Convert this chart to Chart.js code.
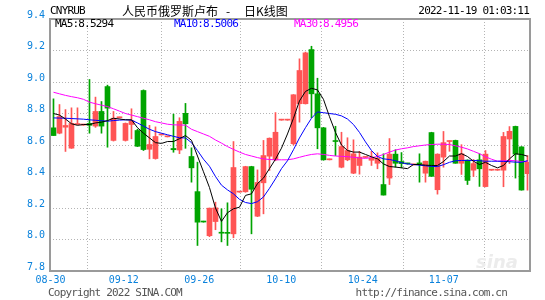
<!DOCTYPE html>
<html>
<head>
<meta charset="utf-8">
<script src="https://cdn.jsdelivr.net/npm/chart.js@4.4.0/dist/chart.umd.min.js"></script>
<style>
  body { margin: 0; background: #fff; }
  #wrap { position: relative; width: 545px; height: 300px; }
  .t { position: absolute; white-space: nowrap; font: 11px "DejaVu Sans Mono", monospace; letter-spacing: -0.8px; line-height: 12px; }
  .cn { font: 12px "Noto Sans CJK SC", sans-serif; letter-spacing: 0; line-height: 16px; color: #000; }
</style>
</head>
<body>
<div id="wrap">
  <canvas id="kline" width="545" height="300"></canvas>
  <div class="t" style="left:50px;top:5px;color:#000">CNYRUB</div>
  <div class="t cn" style="left:122px;top:3px">人民币俄罗斯卢布</div>
  <div class="t cn" style="left:226px;top:3px">-</div>
  <div class="t cn" style="left:244px;top:3px">日K线图</div>
  <div class="t" style="right:16px;top:5px;color:#000">2022-11-19 01:03:11</div>
  <div class="t" style="left:55px;top:18px;color:#000">MA5:8.5294</div>
  <div class="t" style="left:174px;top:18px;color:#0000ff">MA10:8.5006</div>
  <div class="t" style="left:294px;top:18px;color:#ff00ff">MA30:8.4956</div>
  <div class="t" style="left:476px;top:251px;color:#ececec;font:italic bold 18px 'DejaVu Sans',sans-serif;letter-spacing:0">sina</div>
  <div class="t" style="left:48px;top:287px;color:#555">Copyright 2022 SINA.COM</div>
  <div class="t" style="right:38px;top:287px;color:#555">http://finance.sina.com.cn</div>
</div>
<script>
// daily candles, 08-30 .. 11-18
const opens  = [8.709, 8.675, 8.713, 8.580, 8.730, 8.727, 8.737, 8.720, 8.813, 8.971,
                8.629, 8.773, 8.629, 8.730, 8.692, 8.946, 8.573, 8.514, 8.664, 8.652,
                8.578, 8.568, 8.801, 8.527, 8.304, 8.113, 8.024, 8.114, 8.044, 8.041,
                8.036, 8.301, 8.303, 8.463, 8.148, 8.360, 8.529, 8.506, 8.758, 8.758,
                8.608, 8.862, 8.862, 9.206, 8.925, 8.709, 8.506, 8.626, 8.459, 8.506,
                8.421, 8.470, 8.521, 8.503, 8.484, 8.349, 8.390, 8.542, 8.495, 8.482,
                8.474, 8.486, 8.421, 8.679, 8.316, 8.523, 8.622, 8.629, 8.484, 8.504,
                8.440, 8.506, 8.336, 8.440, 8.440, 8.440, 8.638, 8.718, 8.588, 8.418];
const highs  = [8.893, 8.857, 8.825, 8.836, 8.836, 8.730, 9.016, 8.904, 8.876, 8.980,
                8.813, 8.777, 8.740, 8.830, 8.700, 8.950, 8.725, 8.715, 8.667, 8.656,
                8.796, 8.773, 8.864, 8.582, 8.491, 8.115, 8.200, 8.237, 8.195, 8.233,
                8.622, 8.305, 8.465, 8.465, 8.442, 8.629, 8.645, 8.806, 8.762, 8.762,
                8.920, 9.147, 9.190, 9.227, 9.024, 8.712, 8.510, 8.719, 8.681, 8.646,
                8.633, 8.560, 8.525, 8.560, 8.550, 8.544, 8.641, 8.570, 8.552, 8.484,
                8.478, 8.544, 8.498, 8.681, 8.544, 8.686, 8.627, 8.631, 8.602, 8.506,
                8.508, 8.544, 8.565, 8.444, 8.444, 8.680, 8.717, 8.720, 8.590, 8.533];
const lows   = [8.660, 8.671, 8.559, 8.578, 8.728, 8.724, 8.675, 8.712, 8.675, 8.586,
                8.625, 8.771, 8.625, 8.639, 8.590, 8.565, 8.512, 8.510, 8.663, 8.651,
                8.554, 8.545, 8.579, 8.364, 7.962, 8.110, 8.018, 8.062, 7.985, 7.962,
                8.011, 8.300, 8.300, 8.036, 8.145, 8.163, 8.438, 8.500, 8.757, 8.757,
                8.600, 8.745, 8.860, 8.773, 8.576, 8.503, 8.505, 8.533, 8.455, 8.500,
                8.418, 8.415, 8.520, 8.470, 8.449, 8.282, 8.349, 8.459, 8.455, 8.478,
                8.472, 8.364, 8.364, 8.401, 8.288, 8.459, 8.560, 8.484, 8.413, 8.349,
                8.400, 8.337, 8.334, 8.439, 8.439, 8.335, 8.482, 8.390, 8.313, 8.313];
const closes = [8.660, 8.781, 8.724, 8.737, 8.735, 8.728, 8.725, 8.813, 8.720, 8.834,
                8.770, 8.775, 8.737, 8.754, 8.592, 8.571, 8.603, 8.654, 8.667, 8.655,
                8.570, 8.750, 8.735, 8.455, 8.110, 8.111, 8.199, 8.201, 8.040, 8.039,
                8.457, 8.305, 8.463, 8.319, 8.362, 8.533, 8.643, 8.681, 8.762, 8.762,
                8.919, 9.073, 9.185, 8.925, 8.709, 8.506, 8.510, 8.622, 8.590, 8.565,
                8.544, 8.523, 8.524, 8.516, 8.515, 8.282, 8.542, 8.484, 8.482, 8.480,
                8.477, 8.480, 8.497, 8.401, 8.542, 8.615, 8.626, 8.484, 8.544, 8.375,
                8.482, 8.449, 8.542, 8.443, 8.443, 8.654, 8.687, 8.542, 8.314, 8.490];

const ma5  = [8.800, 8.790, 8.765, 8.735, 8.725, 8.730, 8.730, 8.740, 8.745, 8.755,
              8.770, 8.765, 8.760, 8.760, 8.710, 8.675, 8.645, 8.615, 8.610, 8.622,
              8.622, 8.640, 8.660, 8.630, 8.530, 8.430, 8.330, 8.200, 8.115, 8.170,
              8.195, 8.205, 8.280, 8.290, 8.355, 8.390, 8.450, 8.510, 8.580, 8.670,
              8.770, 8.880, 8.940, 8.960, 8.950, 8.890, 8.780, 8.680, 8.600, 8.565,
              8.555, 8.555, 8.540, 8.525, 8.512, 8.480, 8.463, 8.460, 8.455, 8.450,
              8.476, 8.476, 8.472, 8.470, 8.470, 8.495, 8.530, 8.530, 8.545, 8.527,
              8.497, 8.476, 8.490, 8.470, 8.455, 8.470, 8.512, 8.544, 8.540, 8.529];
const ma10 = [8.772, 8.771, 8.770, 8.768, 8.766, 8.764, 8.760, 8.757, 8.754, 8.751,
              8.755, 8.758, 8.760, 8.758, 8.740, 8.720, 8.700, 8.685, 8.675, 8.665,
              8.655, 8.646, 8.645, 8.615, 8.565, 8.510, 8.465, 8.400, 8.345, 8.315,
              8.290, 8.255, 8.235, 8.228, 8.240, 8.270, 8.325, 8.385, 8.450, 8.500,
              8.570, 8.645, 8.710, 8.770, 8.810, 8.805, 8.800, 8.795, 8.785, 8.765,
              8.730, 8.680, 8.620, 8.565, 8.527, 8.512, 8.508, 8.500, 8.487, 8.480,
              8.476, 8.472, 8.468, 8.464, 8.463, 8.475, 8.490, 8.500, 8.502, 8.502,
              8.502, 8.500, 8.497, 8.497, 8.497, 8.496, 8.494, 8.491, 8.490, 8.5006];
const ma30 = [8.935, 8.925, 8.915, 8.907, 8.900, 8.890, 8.872, 8.862, 8.853, 8.844,
              8.830, 8.815, 8.800, 8.790, 8.780, 8.770, 8.760, 8.748, 8.740, 8.732,
              8.728, 8.727, 8.726, 8.700, 8.685, 8.670, 8.655, 8.632, 8.612, 8.590,
              8.572, 8.555, 8.540, 8.530, 8.520, 8.512, 8.508, 8.506, 8.506, 8.506,
              8.512, 8.522, 8.532, 8.540, 8.544, 8.540, 8.534, 8.530, 8.528, 8.526,
              8.522, 8.518, 8.515, 8.520, 8.527, 8.540, 8.555, 8.568, 8.576, 8.582,
              8.590, 8.595, 8.600, 8.603, 8.605, 8.605, 8.603, 8.595, 8.586, 8.575,
              8.560, 8.545, 8.525, 8.510, 8.497, 8.500, 8.502, 8.500, 8.495, 8.4956];

const tickLabels = ['08-30', '09-12', '09-26', '10-10', '10-24', '11-07'];
const tickAt     = [-0.5, 11.7, 24.3, 37.95, 51.55, 65.05];

const RED = '#ff5555', GREEN = '#00a400', BLUE = '#0a82dc';
const monoFont = { family: 'DejaVu Sans Mono', size: 10 };

const candleColors = opens.map((o, i) => closes[i] >= o ? RED : GREEN);
const wicks = lows.map((l, i) => ({ x: i, y: [l, highs[i]] }));
const bodies = opens.map((o, i) => ({ x: i, y: [o, closes[i]] }));
const toLine = arr => arr.map((v, i) => ({ x: i, y: v }));

const frame = {
  id: 'frame',
  afterDraw(chart) {
    const { ctx, chartArea: a } = chart;
    ctx.save();
    ctx.strokeStyle = '#9a9a9a';
    ctx.lineWidth = 2;
    ctx.strokeRect(a.left, a.top, a.right - a.left, a.bottom - a.top);
    ctx.restore();
  }
};

new Chart(document.getElementById('kline'), {
  type: 'bar',
  data: {
    datasets: [
      { type: 'line', data: toLine(ma5), borderColor: '#000', borderWidth: 1, pointRadius: 0, order: 0 },
      { type: 'line', data: toLine(ma10), borderColor: '#0000ff', borderWidth: 1, pointRadius: 0, order: 0 },
      { type: 'line', data: toLine(ma30), borderColor: '#ff00ff', borderWidth: 1, pointRadius: 0, order: 0 },
      { data: bodies, backgroundColor: candleColors, barThickness: 5, minBarLength: 1, grouped: false, order: 1 },
      { data: wicks, backgroundColor: candleColors, barThickness: 1, minBarLength: 1, grouped: false, order: 2 }
    ]
  },
  options: {
    responsive: false,
    animation: false,
    devicePixelRatio: 1,
    events: [],
    layout: { padding: { top: 19, right: 15, left: 0, bottom: 0 } },
    plugins: { legend: { display: false }, tooltip: { enabled: false } },
    scales: {
      x: {
        type: 'linear',
        min: -0.58,
        max: 79.42,
        offset: false,
        afterBuildTicks: ax => { ax.ticks = tickAt.map(v => ({ value: v })); },
        afterFit: s => { s.height = 29; },
        ticks: {
          autoSkip: false, maxRotation: 0, color: BLUE, font: monoFont, padding: 3,
          callback: (v, i) => tickLabels[i]
        },
        grid: { color: '#b4b4b4', drawTicks: false },
        border: { display: false, dash: [1, 2] }
      },
      y: {
        min: 7.8,
        max: 9.4,
        afterFit: s => { s.width = 50; },
        ticks: {
          stepSize: 0.2, color: BLUE, font: monoFont, padding: 5, labelOffset: -4,
          callback: v => Number(v).toFixed(1)
        },
        grid: { color: '#b4b4b4', drawTicks: false },
        border: { display: false, dash: [1, 2] }
      }
    }
  },
  plugins: [frame]
});
</script>
</body>
</html>
